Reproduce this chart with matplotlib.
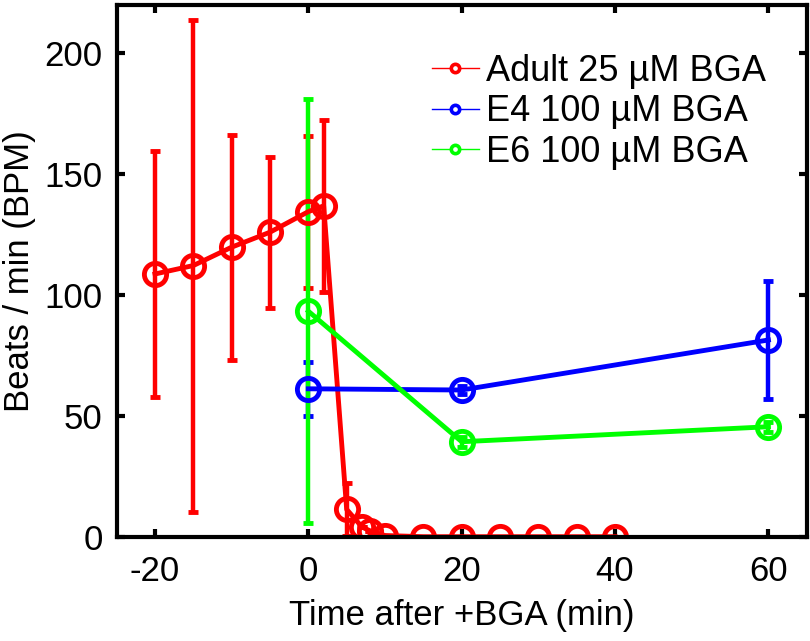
import matplotlib
matplotlib.use("Agg")
import matplotlib.pyplot as plt
from matplotlib.lines import Line2D

plt.rcParams['font.family'] = ['Liberation Sans', 'DejaVu Sans']
plt.rcParams['axes.unicode_minus'] = False

# Adult 25 uM BGA
adult_t = [-20, -15, -10, -5, 0, 2, 5, 7, 8, 10, 15, 20, 25, 30, 35, 40]
adult_bpm = [108.7, 112.2, 119.8, 126.0, 134.5, 136.9, 11.3, 4.0, 2.5, 0.5, 0, 0, 0, 0, 0, 0]
adult_err = [51.0, 101.8, 46.6, 31.2, 31.5, 35.5, 10.8, 0, 0, 0, 0, 0, 0, 0, 0, 0]

# E4 100 uM BGA
e4_t = [0, 20, 60]
e4_bpm = [61.2, 60.7, 81.4]
e4_err = [11.2, 1.5, 24.5]

# E6 100 uM BGA
e6_t = [0, 20, 60]
e6_bpm = [93.3, 39.3, 45.5]
e6_err = [87.6, 2.0, 2.0]

labels = ['Adult 25 \u00b5M BGA', 'E4 100 \u00b5M BGA', 'E6 100 \u00b5M BGA']
colors = ['#ff0000', '#0000ff', '#00ff00']

xticks = [-20, 0, 20, 40, 60]
yticks = [0, 50, 100, 150, 200]

fig = plt.figure(figsize=(8.10, 6.41), dpi=100)
ax = fig.add_axes([0.144, 0.1627, 0.852, 0.8295])

series = [(adult_t, adult_bpm, adult_err), (e4_t, e4_bpm, e4_err), (e6_t, e6_bpm, e6_err)]
for (t, y, e), c in zip(series, colors):
    ax.errorbar(t, y, yerr=e, color=c, lw=3.5, marker='o', ms=16, mfc='none',
                mec=c, mew=3.5, elinewidth=3.2, capsize=3.6, capthick=3.2)

handles = [Line2D([0], [0], color=c, lw=1.0, marker='o', ms=6, mfc='white', mec=c, mew=2.6)
           for c in colors]
ax.legend(handles, labels, loc='upper right', bbox_to_anchor=(0.962, 0.935), frameon=False,
          fontsize=26, handlelength=1.3, handletextpad=0.2, labelspacing=0.15,
          borderaxespad=0.0)

ax.set_xlim(-25, 65)
ax.set_ylim(0, 220)
ax.set_xticks(xticks)
ax.set_yticks(yticks)
ax.tick_params(direction='in', length=6, width=3, top=True, right=True,
               labelsize=25, pad=10)
ax.tick_params(axis='x', pad=13)
for s in ax.spines.values():
    s.set_linewidth(3.0)
ax.set_xlabel('Time after +BGA (min)', fontsize=25, labelpad=8)
ax.set_ylabel('Beats / min (BPM)', fontsize=25, labelpad=6)

fig.savefig('out.png', dpi=100)
